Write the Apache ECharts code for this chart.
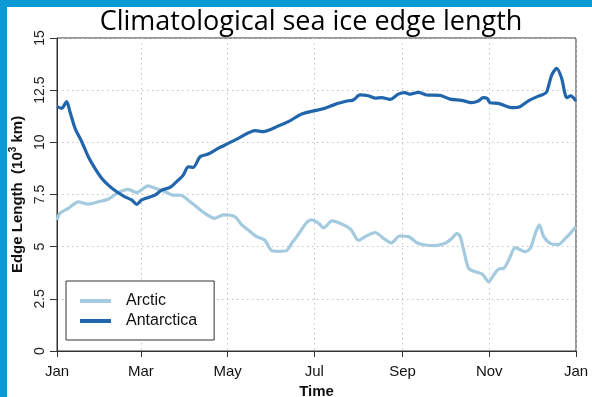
<!DOCTYPE html>
<html>
<head>
<meta charset="utf-8">
<script src="https://cdn.jsdelivr.net/npm/echarts@6/dist/echarts.min.js"></script>
<style>
  html, body { margin: 0; padding: 0; background: #fff; }
  #chart { width: 592px; height: 397px; }
</style>
</head>
<body>
<div id="chart"></div>
<script>
// Month boundaries (day of year) and their tick labels
const monthDays = [0, 59, 120, 181, 243, 304, 365];
const monthLabels = ['Jan', 'Mar', 'May', 'Jul', 'Sep', 'Nov', 'Jan'];

// Arctic climatological sea ice edge length (10^3 km) by day of year
const arcticDays = [0, 2, 8, 15, 22, 29, 36, 43, 50, 56, 64, 69, 76, 82, 86.5, 95, 104, 111, 117, 125,
  130, 134.5, 140.5, 146, 151, 155.6, 161.5, 165, 168.6, 175.6, 179, 184, 187.5, 193.4, 200.4, 206.8,
  212, 217.3, 223.6, 230.7, 235, 241, 247.3, 253.2, 259, 266, 273, 277.8, 281.3, 283.6, 286, 289.5,
  294.2, 299, 303.6, 307.1, 310.6, 314.2, 317.7, 322.3, 329.4, 332.9, 336.4, 339.2, 342.3, 346.9,
  352.8, 357.5, 361, 365];
const arcticVals = [6.28, 6.6, 6.84, 7.15, 7.04, 7.15, 7.27, 7.59, 7.75, 7.59, 7.91, 7.8, 7.63, 7.47, 7.47, 7.08, 6.6, 6.36, 6.52, 6.44,
  6.04, 5.8, 5.48, 5.32, 4.81, 4.78, 4.81, 5.16, 5.48, 6.16, 6.28, 6.12, 5.9, 6.24, 6.08, 5.82,
  5.3, 5.5, 5.68, 5.35, 5.18, 5.51, 5.48, 5.19, 5.08, 5.05, 5.16, 5.4, 5.64, 5.48, 4.84, 3.96,
  3.8, 3.69, 3.32, 3.64, 3.93, 3.96, 4.36, 4.95, 4.76, 4.92, 5.64, 6.04, 5.48, 5.16,
  5.11, 5.4, 5.64, 5.96];

// Antarctic climatological sea ice edge length (10^3 km) by day of year
const antarcticDays = [0, 3.3, 6.8, 9.1, 12.7, 17.4, 22, 26.7, 31.4, 36.1, 42, 47.8, 52.5, 56.1, 59.6, 64.2,
  68.9, 73.6, 79.5, 85.3, 88.8, 92.3, 95.9, 100.6, 106.4, 113.4, 120.5, 127.5, 139.3, 145.1, 155.6,
  162.7, 172.1, 181.4, 188.5, 195.5, 204.9, 208.4, 213.1, 218.9, 223.6, 228.4, 234.2, 240, 244.7,
  248.3, 254.1, 260, 269.4, 276.4, 284.6, 291.6, 296.3, 299.8, 302.6, 304.5, 310.4, 315.1, 319.8,
  325.6, 331.5, 337.4, 342, 344.4, 347.9, 351.4, 354.9, 358.5, 361.3, 363.1, 365];
const antarcticVals = [11.71, 11.63, 11.95, 11.47, 10.67, 10.03, 9.31, 8.75, 8.28, 7.95, 7.63, 7.39, 7.24, 7.03, 7.24, 7.36,
  7.47, 7.71, 7.84, 8.19, 8.43, 8.83, 8.8, 9.31, 9.44, 9.71, 9.95, 10.19, 10.56, 10.51, 10.78,
  10.99, 11.36, 11.52, 11.63, 11.82, 11.99, 12.03, 12.27, 12.23, 12.12, 12.14, 12.06, 12.31, 12.38,
  12.31, 12.39, 12.27, 12.25, 12.07, 12.01, 11.9, 11.98, 12.14, 12.1, 11.9, 11.87, 11.75, 11.66,
  11.71, 11.99, 12.18, 12.3, 12.42, 13.22, 13.55, 13.07, 12.14, 12.23, 12.14, 11.98];

const pair = (xs, ys) => xs.map((x, i) => [x, ys[i]]);
const FONT = '"Liberation Sans", Arial, Helvetica, sans-serif';
const AXIS_COLOR = '#333';
const GRID_LINE = { show: true, lineStyle: { color: '#c4c4c4', type: [1.5, 3.5], width: 1 } };

const chart = echarts.init(document.getElementById('chart'), null, { renderer: 'canvas' });

chart.setOption({
  backgroundColor: '#fff',
  animation: false,
  title: {
    text: 'Climatological sea ice edge length',
    left: 306, top: 4, textAlign: 'center',
    textStyle: { fontFamily: '"Open Sans", sans-serif', fontSize: 27, fontWeight: 'normal', color: '#000' }
  },
  graphic: [
    { type: 'rect', shape: { x: 0, y: 0, width: 592, height: 7 }, style: { fill: '#0a9bd6' }, z: 100 },
    { type: 'rect', shape: { x: 0, y: 0, width: 7, height: 397 }, style: { fill: '#0a9bd6' }, z: 100 }
  ],
  grid: {
    left: 57, right: 16, top: 38, bottom: 46,
    outerBoundsMode: 'none', containLabel: false,
    show: true, borderColor: AXIS_COLOR, borderWidth: 1, backgroundColor: 'transparent'
  },
  legend: {
    data: ['Arctic', 'Antarctica'],
    orient: 'vertical',
    left: 66, top: 281,
    padding: [12, 17, 11, 14],
    itemGap: 4,
    itemWidth: 31, itemHeight: 4,
    icon: 'rect',
    borderColor: '#333', borderWidth: 1,
    backgroundColor: '#fff',
    textStyle: { fontFamily: FONT, fontSize: 16, color: '#111', lineHeight: 16, padding: [0, 0, 0, 10] }
  },
  xAxis: {
    type: 'value', min: 0, max: 365,
    name: 'Time', nameLocation: 'middle', nameGap: 31,
    nameTextStyle: { fontFamily: FONT, fontSize: 15, fontWeight: 'bold', color: '#111' },
    axisLine: { show: true, lineStyle: { color: AXIS_COLOR } },
    axisTick: { show: true, length: 6, customValues: monthDays, lineStyle: { color: AXIS_COLOR } },
    axisLabel: {
      customValues: monthDays, margin: 13,
      fontFamily: FONT, fontSize: 15, color: '#111',
      formatter: v => monthLabels[monthDays.indexOf(v)]
    },
    splitLine: GRID_LINE
  },
  yAxis: {
    type: 'value', min: 0, max: 15, interval: 2.5,
    name: 'Edge Length  (10{sup|3} km)', nameLocation: 'middle', nameGap: 29,
    nameTextStyle: {
      fontFamily: FONT, fontSize: 15, fontWeight: 'bold', color: '#111',
      rich: { sup: { fontFamily: FONT, fontSize: 10, fontWeight: 'bold', color: '#111', verticalAlign: 'top', padding: [0, 0, 8, 0] } }
    },
    axisLine: { show: true, lineStyle: { color: AXIS_COLOR } },
    axisTick: { show: true, length: 7, lineStyle: { color: AXIS_COLOR } },
    axisLabel: {
      rotate: 90, margin: 10, fontFamily: FONT, fontSize: 14, color: '#222',
      formatter: v => String(v)
    },
    splitLine: GRID_LINE
  },
  series: [
    {
      name: 'Arctic', type: 'line', data: pair(arcticDays, arcticVals),
      showSymbol: false, symbol: 'none', smooth: 0.25,
      lineStyle: { color: '#a3cadf', width: 3.2 }, itemStyle: { color: '#a3cadf' }, z: 2
    },
    {
      name: 'Antarctica', type: 'line', data: pair(antarcticDays, antarcticVals),
      showSymbol: false, symbol: 'none', smooth: 0.25,
      lineStyle: { color: '#2166ac', width: 3.2 }, itemStyle: { color: '#2166ac' }, z: 3
    }
  ]
});
</script>
</body>
</html>
